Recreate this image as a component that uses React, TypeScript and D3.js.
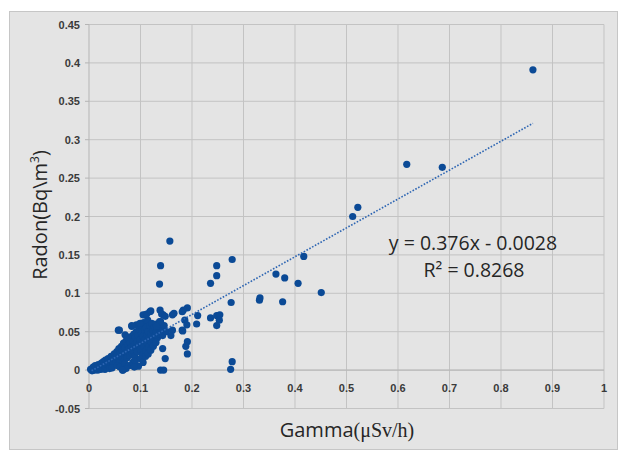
import React from "react";
import * as d3 from "d3";

const xTicks = [0, 0.1, 0.2, 0.3, 0.4, 0.5, 0.6, 0.7, 0.8, 0.9, 1];
const yTicks = [-0.05, 0, 0.05, 0.1, 0.15, 0.2, 0.25, 0.3, 0.35, 0.4, 0.45];
const xTickLabels = ["0", "0.1", "0.2", "0.3", "0.4", "0.5", "0.6", "0.7", "0.8", "0.9", "1"];
const yTickLabels = ["-0.05", "0", "0.05", "0.1", "0.15", "0.2", "0.25", "0.3", "0.35", "0.4", "0.45"];

// gamma (x) values and radon (y) values, paired by index
const clusterPoints: [number, number][] = [
  [0.003, 0.001], [0.006, -0.001], [0.009, 0.002], [0.011, 0.0], [0.013, 0.001], [0.015, 0.003],
  [0.017, 0.0], [0.019, 0.002], [0.021, 0.004], [0.023, 0.001], [0.025, 0.005], [0.027, 0.002],
  [0.029, 0.006], [0.031, 0.001], [0.033, 0.004], [0.008, 0.004], [0.012, 0.006], [0.018, 0.007],
  [0.024, 0.009], [0.028, 0.011], [0.032, 0.013], [0.035, 0.008], [0.037, 0.015], [0.039, 0.006],
  [0.041, 0.01], [0.043, 0.018], [0.045, 0.013], [0.047, 0.008], [0.049, 0.021], [0.05, 0.016],
  [0.052, 0.011], [0.054, 0.024], [0.055, 0.019], [0.057, 0.014], [0.058, 0.028], [0.06, 0.022],
  [0.061, 0.012], [0.063, 0.031], [0.064, 0.017], [0.065, 0.025], [0.066, 0.0], [0.067, 0.035],
  [0.068, 0.02], [0.069, 0.014], [0.07, 0.029], [0.072, 0.038], [0.073, 0.023], [0.074, 0.016],
  [0.075, 0.033], [0.077, 0.027], [0.078, 0.041], [0.079, 0.019], [0.08, 0.036], [0.082, 0.03],
  [0.083, 0.044], [0.084, 0.022], [0.085, 0.039], [0.086, 0.026], [0.087, 0.047], [0.088, 0.033],
  [0.089, 0.018], [0.09, 0.043], [0.091, 0.029], [0.092, 0.05], [0.093, 0.037], [0.094, 0.024],
  [0.095, 0.046], [0.096, 0.005], [0.097, 0.033], [0.098, 0.053], [0.099, 0.04], [0.1, 0.027],
  [0.101, 0.058], [0.102, 0.048], [0.103, 0.035], [0.104, 0.02], [0.105, 0.044], [0.106, 0.062],
  [0.107, 0.03], [0.108, 0.052], [0.109, 0.04], [0.11, 0.025], [0.111, 0.056], [0.112, 0.046],
  [0.113, 0.035], [0.114, 0.065], [0.115, 0.05], [0.116, 0.03], [0.117, 0.042], [0.118, 0.058],
  [0.12, 0.047], [0.121, 0.036], [0.122, 0.061], [0.124, 0.052], [0.125, 0.04], [0.127, 0.056],
  [0.128, 0.045], [0.13, 0.06], [0.131, 0.05], [0.133, 0.042], [0.135, 0.055], [0.137, 0.047],
  [0.139, 0.063], [0.141, 0.053], [0.143, 0.045], [0.146, 0.058], [0.15, 0.05],
  [0.057, 0.052], [0.07, 0.046], [0.075, 0.043], [0.083, 0.057], [0.092, 0.059], [0.099, 0.061],
  [0.04, 0.002], [0.045, 0.003], [0.055, 0.006], [0.06, 0.004], [0.07, 0.008], [0.078, 0.006],
  [0.085, 0.01], [0.09, 0.012], [0.1, 0.015], [0.105, 0.01], [0.11, 0.018], [0.115, 0.021],
  [0.12, 0.026], [0.125, 0.031], [0.13, 0.036], [0.072, 0.002], [0.088, 0.004],
];

const outlierPoints: [number, number][] = [
  [0.862, 0.391], [0.617, 0.268], [0.686, 0.264], [0.512, 0.2], [0.522, 0.212], [0.451, 0.101],
  [0.417, 0.148], [0.406, 0.113], [0.38, 0.12], [0.363, 0.125], [0.376, 0.089], [0.331, 0.091],
  [0.332, 0.094], [0.278, 0.144], [0.276, 0.088], [0.278, 0.011], [0.275, 0.001], [0.248, 0.136],
  [0.248, 0.123], [0.236, 0.113], [0.236, 0.068], [0.248, 0.071], [0.254, 0.072], [0.253, 0.065],
  [0.248, 0.058], [0.211, 0.071], [0.209, 0.06], [0.191, 0.081], [0.183, 0.078], [0.186, 0.065],
  [0.19, 0.059], [0.181, 0.052], [0.191, 0.037], [0.188, 0.031], [0.191, 0.021], [0.162, 0.072],
  [0.162, 0.052], [0.159, 0.045], [0.143, 0.028], [0.148, 0.015], [0.139, 0.0], [0.145, 0.0],
  [0.157, 0.168], [0.139, 0.136], [0.137, 0.112], [0.138, 0.078], [0.144, 0.072], [0.137, 0.063],
  [0.131, 0.057], [0.118, 0.076], [0.109, 0.072], [0.105, 0.072], [0.112, 0.073], [0.12, 0.077],
  [0.141, 0.073], [0.148, 0.07], [0.165, 0.074], [0.181, 0.076], [0.083, 0.058], [0.059, 0.052],
  [0.065, 0.0], [0.182, 0.051],
];

const slope = 0.376;
const intercept = -0.0028;
const trendRange = [0.005, 0.862];
const equationText = "y = 0.376x - 0.0028";
const r2Value = "0.8268";

export default function App() {
  const W = 619, H = 450;
  const x = d3.scaleLinear().domain([0, 1]).range([89, 604]);
  const y = d3.scaleLinear().domain([-0.05, 0.45]).range([408.5, 24.5]);
  const all = [...clusterPoints, ...outlierPoints];
  const line = d3.line<number>().x((d) => x(d)).y((d) => y(slope * d + intercept));
  const tickFont = "'Liberation Sans', Arial, sans-serif";
  return (
    <svg width={W} height={H} style={{ position: "absolute", left: 0, top: 0 }}>
      <rect x={0} y={0} width={W} height={H} fill="#ffffff" />
      <rect x={9.5} y={11.5} width={608} height={438} fill="#e4e4e4" stroke="#c6c6c6" strokeWidth={1} />
      {xTicks.slice(1).map((t) => (
        <line key={"gx" + t} x1={x(t)} x2={x(t)} y1={y(0.45)} y2={y(-0.05)} stroke="#c3c3c3" strokeWidth={1} />
      ))}
      {yTicks.map((t) => (
        <line key={"gy" + t} x1={x(0)} x2={x(1)} y1={y(t)} y2={y(t)} stroke="#c3c3c3" strokeWidth={1} />
      ))}
      <line x1={x(0)} x2={x(0)} y1={y(0.45)} y2={y(-0.05)} stroke="#b5b5b5" strokeWidth={1} />
      <line x1={x(0)} x2={x(1)} y1={y(0)} y2={y(0)} stroke="#b5b5b5" strokeWidth={1} />
      {yTicks.map((t) => (
        <line key={"ty" + t} x1={x(0) - 4} x2={x(0)} y1={y(t)} y2={y(t)} stroke="#b5b5b5" strokeWidth={1} />
      ))}
      {yTicks.map((t, i) => (
        <text key={"ly" + t} x={80} y={y(t) + 4} textAnchor="end" fontFamily={tickFont} fontSize={11} fontWeight="bold" fill="#3a3a3a">
          {yTickLabels[i]}
        </text>
      ))}
      {xTicks.map((t, i) => (
        <text key={"lx" + t} x={x(t)} y={y(0) + 22} textAnchor="middle" fontFamily={tickFont} fontSize={11} fontWeight="bold" fill="#3a3a3a">
          {xTickLabels[i]}
        </text>
      ))}
      {all.map((p, i) => (
        <circle key={i} cx={x(p[0])} cy={y(p[1])} r={3.6} fill="#0b4a96" />
      ))}
      <path d={line(trendRange) || ""} stroke="#2e66b3" strokeWidth={1.6} strokeDasharray="1.6,1.6" fill="none" />
      <text x={473} y={250} textAnchor="middle" fontFamily="'Open Sans', sans-serif" fontSize={19.5} fill="#262626">
        {equationText}
      </text>
      <text x={474} y={277} textAnchor="middle" fontFamily="'Open Sans', sans-serif" fontSize={19.5} fill="#262626">
        R² = {r2Value}
      </text>
      <text transform="translate(47,215) rotate(-90)" textAnchor="middle" fontFamily="'Open Sans', sans-serif" fontSize={20} fill="#262626">
        Radon(Bq\m<tspan fontSize={12} dy={-8}>3</tspan><tspan dy={8}>)</tspan>
      </text>
      <text x={347} y={437} textAnchor="middle" fontSize={20} fill="#262626">
        <tspan fontFamily="'Open Sans', sans-serif">Gamma</tspan>
        <tspan fontFamily="'Liberation Serif', 'Times New Roman', serif">(μSv/h)</tspan>
      </text>
    </svg>
  );
}
